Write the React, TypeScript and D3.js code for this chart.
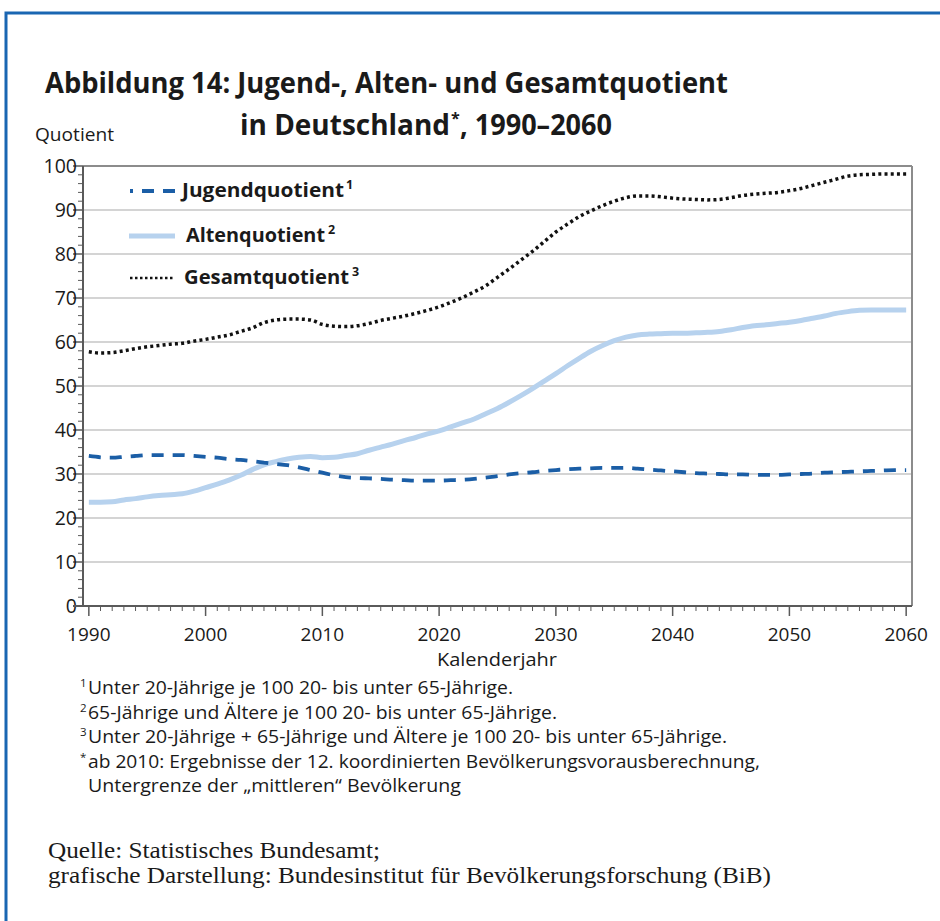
import React from "react";
import * as d3 from "d3";

const years: number[] = d3.range(1990, 2061);

const jugend: number[] = [
  34.1, 33.8, 33.7, 33.9, 34.1, 34.3, 34.3, 34.3, 34.3, 34.1,
  33.9, 33.7, 33.4, 33.2, 32.9, 32.6, 32.3, 32.0, 31.5, 30.9,
  30.3, 29.7, 29.3, 29.1, 29.0, 28.9, 28.7, 28.6, 28.5, 28.5,
  28.5, 28.6, 28.7, 28.9, 29.2, 29.5, 29.9, 30.2, 30.4, 30.7,
  30.9, 31.1, 31.2, 31.3, 31.4, 31.4, 31.4, 31.2, 31.0, 30.8,
  30.6, 30.4, 30.2, 30.1, 30.0, 29.9, 29.9, 29.8, 29.8, 29.8,
  29.9, 30.0, 30.1, 30.3, 30.4, 30.5, 30.6, 30.7, 30.8, 30.9,
  30.9,
];

const alten: number[] = [
  23.6, 23.6, 23.7, 24.1, 24.4, 24.8, 25.1, 25.3, 25.5, 26.1,
  26.9, 27.7, 28.6, 29.7, 31.0, 32.1, 32.8, 33.4, 33.8, 34.0,
  33.7, 33.8, 34.2, 34.6, 35.4, 36.1, 36.8, 37.6, 38.3, 39.1,
  39.8, 40.7, 41.6, 42.5, 43.7, 44.9, 46.3, 47.8, 49.4, 51.1,
  52.8, 54.6, 56.3, 57.9, 59.2, 60.3, 61.1, 61.6, 61.8, 61.9,
  62.0, 62.0, 62.1, 62.2, 62.4, 62.8, 63.3, 63.7, 63.9, 64.2,
  64.5, 64.9, 65.4, 65.9, 66.5, 66.9, 67.2, 67.3, 67.3, 67.3,
  67.3,
];

const gesamt: number[] = [
  57.8, 57.5, 57.6, 58.0, 58.5, 58.9, 59.2, 59.5, 59.7, 60.2,
  60.6, 61.1, 61.6, 62.4, 63.2, 64.4, 65.0, 65.2, 65.2, 65.0,
  64.0, 63.6, 63.5, 63.7, 64.2, 64.9, 65.4, 65.9, 66.5, 67.2,
  68.0, 69.0, 70.1, 71.4, 72.8, 74.7, 76.6, 78.6, 80.6, 82.8,
  85.0, 86.8, 88.5, 89.8, 91.0, 92.0, 92.8, 93.2, 93.2, 93.0,
  92.7, 92.5, 92.4, 92.3, 92.4, 92.8, 93.3, 93.6, 93.8, 94.0,
  94.4, 94.9, 95.6, 96.3, 97.0, 97.7, 98.0, 98.1, 98.2, 98.2,
  98.2,
];

const yTicks: number[] = [0, 10, 20, 30, 40, 50, 60, 70, 80, 90, 100];
const xTicks: number[] = [1990, 2000, 2010, 2020, 2030, 2040, 2050, 2060];

const footnotes: { sup: string; text: string }[] = [
  { sup: "1", text: "Unter 20-Jährige je 100 20- bis unter 65-Jährige." },
  { sup: "2", text: "65-Jährige und Ältere je 100 20- bis unter 65-Jährige." },
  { sup: "3", text: "Unter 20-Jährige + 65-Jährige und Ältere je 100 20- bis unter 65-Jährige." },
  { sup: "*", text: "ab 2010: Ergebnisse der 12. koordinierten Bevölkerungsvorausberechnung," },
  { sup: "", text: "Untergrenze der „mittleren“ Bevölkerung" },
];
const footLens: number[] = [425, 469, 639, 672, 373];

const sourceLines: string[] = [
  "Quelle: Statistisches Bundesamt;",
  "grafische Darstellung: Bundesinstitut für Bevölkerungsforschung (BiB)",
];
const sourceLens: number[] = [332, 723];

const COL_J = "#1b5ea6";
const COL_A = "#b7d2ee";
const COL_G = "#111111";
const TXT = "#1a1a1a";
const SANS = "'Open Sans', 'Noto Sans', sans-serif";

export default function App() {
  const left = 83, right = 912, top = 166, bottom = 606;
  const x = d3.scaleLinear().domain([1989.5, 2060.5]).range([left, right]);
  const y = d3.scaleLinear().domain([0, 100]).range([bottom, top]);

  const line = d3
    .line<number>()
    .x((_, i) => x(years[i]))
    .y((d) => y(d))
    .curve(d3.curveMonotoneX);

  const minorY = d3.range(0, 101, 2).filter((v) => v % 10 !== 0);
  const minorX = years.filter((v) => v % 10 !== 0);

  return (
    <svg
      width={940}
      height={921}
      style={{ position: "absolute", left: 0, top: 0, background: "#fff" }}
      fontFamily={SANS}
    >
      <rect x={0} y={0} width={940} height={921} fill="#fff" />
      <path d="M6,921 V13 H940" fill="none" stroke="#1a66b2" strokeWidth={3} />

      {/* Title */}
      <text x={45} y={93} fontSize={28} fontWeight={700} fill={TXT}
        textLength={683} lengthAdjust="spacingAndGlyphs">
        Abbildung 14: Jugend-, Alten- und Gesamtquotient
      </text>
      <text x={240} y={135} fontSize={28} fontWeight={700} fill={TXT}
        textLength={210} lengthAdjust="spacingAndGlyphs">in Deutschland</text>
      <text x={451} y={124} fontSize={16} fontWeight={700} fill={TXT}>*</text>
      <text x={460} y={135} fontSize={28} fontWeight={700} fill={TXT}
        textLength={152} lengthAdjust="spacingAndGlyphs">, 1990–2060</text>

      <text x={35} y={141} fontSize={18.5} fill={TXT}
        textLength={79} lengthAdjust="spacingAndGlyphs">Quotient</text>

      {/* grid */}
      {yTicks.filter((t) => t > 0 && t < 100).map((t) => (
        <line key={"g" + t} x1={left} x2={right} y1={y(t)} y2={y(t)}
          stroke="#c6c6c6" strokeWidth={1.5} />
      ))}
      <line x1={left} x2={right} y1={y(100)} y2={y(100)} stroke="#8c8c8c" strokeWidth={2} />
      <line x1={right} x2={right} y1={y(100)} y2={y(0)} stroke="#8c8c8c" strokeWidth={2} />

      {/* y axis */}
      <line x1={left} x2={left} y1={y(100)} y2={y(0)} stroke="#5a5a5a" strokeWidth={2} />
      {yTicks.map((t) => (
        <g key={"yt" + t}>
          <line x1={left - 10} x2={left} y1={y(t)} y2={y(t)} stroke="#5a5a5a" strokeWidth={1.5} />
          <text x={left - 6} y={y(t) + 7} textAnchor="end" fontSize={19.5} fill={TXT}>{t}</text>
        </g>
      ))}
      {minorY.map((t) => (
        <line key={"ym" + t} x1={left - 5} x2={left} y1={y(t)} y2={y(t)} stroke="#5a5a5a" strokeWidth={1} />
      ))}

      {/* x axis */}
      <line x1={left - 10} x2={right} y1={y(0)} y2={y(0)} stroke="#5a5a5a" strokeWidth={2} />
      {xTicks.map((t) => (
        <g key={"xt" + t}>
          <line x1={x(t)} x2={x(t)} y1={y(0)} y2={y(0) + 10} stroke="#5a5a5a" strokeWidth={1.5} />
          <text x={x(t)} y={y(0) + 35} textAnchor="middle" fontSize={19} fill={TXT}>{t}</text>
        </g>
      ))}
      {minorX.map((t) => (
        <line key={"xm" + t} x1={x(t)} x2={x(t)} y1={y(0)} y2={y(0) + 5} stroke="#5a5a5a" strokeWidth={1} />
      ))}
      <text x={497} y={666} textAnchor="middle" fontSize={19} fill={TXT}
        textLength={120} lengthAdjust="spacingAndGlyphs">Kalenderjahr</text>

      {/* series */}
      <path d={line(alten) || ""} fill="none" stroke={COL_A} strokeWidth={5} strokeLinejoin="round" />
      <path d={line(jugend) || ""} fill="none" stroke={COL_J} strokeWidth={3.8} strokeDasharray="12 9" />
      <path d={line(gesamt) || ""} fill="none" stroke={COL_G} strokeWidth={3.5} strokeDasharray="3 3.2" />

      {/* legend */}
      <line x1={130} x2={175} y1={191} y2={191} stroke={COL_J} strokeWidth={3.8}
        strokeDasharray="12 9" strokeDashoffset={9} />
      <text x={182} y={197} fontSize={20} fontWeight={700} fill={TXT}
        textLength={162} lengthAdjust="spacingAndGlyphs">Jugendquotient</text>
      <text x={346} y={189} fontSize={12.5} fontWeight={700} fill={TXT}>1</text>

      <line x1={129} x2={175} y1={236} y2={236} stroke={COL_A} strokeWidth={5} />
      <text x={186} y={242} fontSize={20} fontWeight={700} fill={TXT}
        textLength={139} lengthAdjust="spacingAndGlyphs">Altenquotient</text>
      <text x={328} y={234} fontSize={12.5} fontWeight={700} fill={TXT}>2</text>

      <line x1={130} x2={175} y1={278} y2={278} stroke={COL_G} strokeWidth={2.5} strokeDasharray="2.5 2.5" />
      <text x={184} y={284} fontSize={20} fontWeight={700} fill={TXT}
        textLength={165} lengthAdjust="spacingAndGlyphs">Gesamtquotient</text>
      <text x={352} y={276} fontSize={12.5} fontWeight={700} fill={TXT}>3</text>

      {/* footnotes */}
      {footnotes.map((f, i) => {
        const by = 694 + i * 24.5;
        const tx = 88;
        return (
          <g key={"fn" + i}>
            {f.sup && (
              <text x={80} y={by - 7} fontSize={11.5} fill={TXT}>{f.sup}</text>
            )}
            <text x={tx} y={by} fontSize={19} fill={TXT}
              textLength={footLens[i]} lengthAdjust="spacingAndGlyphs">{f.text}</text>
          </g>
        );
      })}

      {/* source */}
      {sourceLines.map((s, i) => (
        <text key={"src" + i} x={48} y={858 + i * 25} fontSize={22.5}
          fontFamily="'Liberation Serif', 'DejaVu Serif', serif" fill={TXT}
          textLength={sourceLens[i]} lengthAdjust="spacingAndGlyphs">{s}</text>
      ))}
    </svg>
  );
}
